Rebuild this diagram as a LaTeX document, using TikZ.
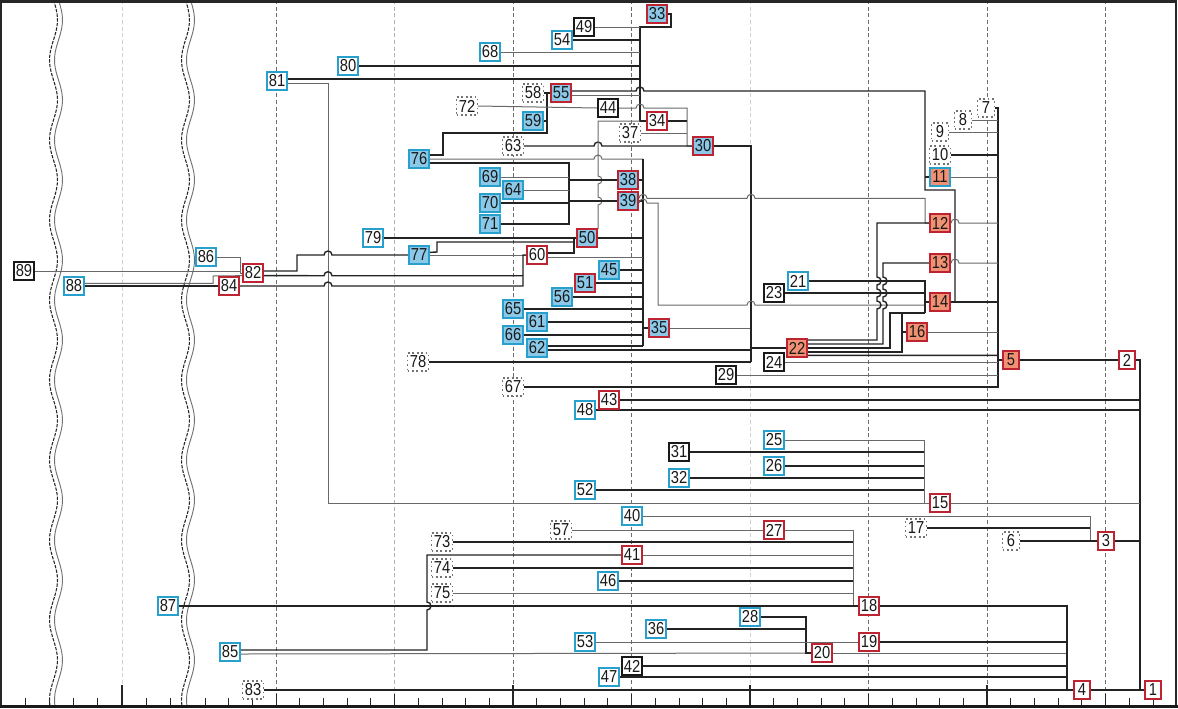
\documentclass[tikz,border=0pt]{standalone}
\usepackage{fontspec}
\newfontfamily\nodefont{Liberation Sans}[FakeStretch=0.85]
\pgfdeclarelayer{gridl}\pgfdeclarelayer{linel}
\pgfsetlayers{gridl,linel,main}
\definecolor{cyanb}{RGB}{40,160,205}
\definecolor{bluefill}{RGB}{140,200,232}
\definecolor{redb}{RGB}{190,35,50}
\definecolor{orangefill}{RGB}{240,145,115}
\definecolor{lineDark}{RGB}{35,35,35}
\definecolor{lineGray}{RGB}{105,105,105}
\begin{document}
\begin{tikzpicture}[x=0.75pt,y=-0.75pt,
  nd/.style={draw, line width=1.3pt, inner xsep=1.6pt, inner ysep=0pt, minimum height=13.5pt, minimum width=12.5pt, font=\nodefont\fontsize{13}{13}\selectfont, text=black!90},
  bo/.style={nd, draw=cyanb, fill=white},
  bf/.style={nd, draw=cyanb, fill=bluefill},
  rb/.style={nd, draw=redb, fill=bluefill},
  rw/.style={nd, draw=redb, fill=white},
  ro/.style={nd, draw=redb, fill=orangefill},
  bor/.style={nd, draw=cyanb, fill=orangefill},
  kw/.style={nd, draw=black!90, fill=white},
  dt/.style={nd, draw=gray!90!black, dotted, line width=0.9pt, fill=white},
  dk/.style={draw=lineDark, line width=1.05pt},
  gy/.style={draw=lineGray, line width=0.75pt},
  tk/.style={draw=lineDark, line width=1.7pt},
  grid/.style={draw=gray!85!black, line width=0.6pt, dash pattern=on 3pt off 2pt},
  lgrid/.style={draw=gray!35, line width=0.6pt, dash pattern=on 3pt off 2pt}
]
\useasboundingbox (0,0) rectangle (1178,708);
% nodes
\node[rw] (n1) at (1153,690) {1};
\node[rw] (n2) at (1127,360) {2};
\node[rw] (n3) at (1106,541) {3};
\node[rw] (n4) at (1082,690) {4};
\node[ro] (n5) at (1011,360) {5};
\node[dt] (n6) at (1011,541) {6};
\node[dt] (n7) at (986,108) {7};
\node[dt] (n8) at (963,120) {8};
\node[dt] (n9) at (940,132) {9};
\node[dt] (n10) at (940,155) {10};
\node[bor] (n11) at (940,177) {11};
\node[ro] (n12) at (940,223) {12};
\node[ro] (n13) at (940,263) {13};
\node[ro] (n14) at (940,302) {14};
\node[rw] (n15) at (940,503) {15};
\node[ro] (n16) at (917,332) {16};
\node[dt] (n17) at (916,528) {17};
\node[rw] (n18) at (869,606) {18};
\node[rw] (n19) at (869,642) {19};
\node[rw] (n20) at (822,653) {20};
\node[bo] (n21) at (798,281) {21};
\node[ro] (n22) at (797,348) {22};
\node[kw] (n23) at (774,293) {23};
\node[kw] (n24) at (774,362) {24};
\node[bo] (n25) at (774,440) {25};
\node[bo] (n26) at (774,466) {26};
\node[rw] (n27) at (774,530) {27};
\node[bo] (n28) at (750,617) {28};
\node[kw] (n29) at (726,375) {29};
\node[rb] (n30) at (703,146) {30};
\node[kw] (n31) at (679,452) {31};
\node[bo] (n32) at (679,478) {32};
\node[rb] (n33) at (657,14) {33};
\node[rw] (n34) at (657,121) {34};
\node[rb] (n35) at (659,328) {35};
\node[bo] (n36) at (656,629) {36};
\node[dt] (n37) at (630,133) {37};
\node[rb] (n38) at (628,180) {38};
\node[rb] (n39) at (628,201) {39};
\node[bo] (n40) at (632,516) {40};
\node[rw] (n41) at (632,555) {41};
\node[kw] (n42) at (632,666) {42};
\node[rw] (n43) at (609,400) {43};
\node[kw] (n44) at (608,108) {44};
\node[bf] (n45) at (609,270) {45};
\node[bo] (n46) at (608,581) {46};
\node[bo] (n47) at (609,677) {47};
\node[bo] (n48) at (585,410) {48};
\node[kw] (n49) at (584,27) {49};
\node[rb] (n50) at (587,238) {50};
\node[rb] (n51) at (585,283) {51};
\node[bo] (n52) at (585,490) {52};
\node[bo] (n53) at (585,642) {53};
\node[bo] (n54) at (562,40) {54};
\node[rb] (n55) at (561,93) {55};
\node[bf] (n56) at (562,297) {56};
\node[dt] (n57) at (561,530) {57};
\node[dt] (n58) at (533,93) {58};
\node[bf] (n59) at (533,121) {59};
\node[rw] (n60) at (537,255) {60};
\node[bf] (n61) at (537,322) {61};
\node[bf] (n62) at (537,348) {62};
\node[dt] (n63) at (513,146) {63};
\node[bf] (n64) at (513,190) {64};
\node[bf] (n65) at (513,309) {65};
\node[bf] (n66) at (513,335) {66};
\node[dt] (n67) at (513,387) {67};
\node[bo] (n68) at (490,52) {68};
\node[bf] (n69) at (490,177) {69};
\node[bf] (n70) at (490,203) {70};
\node[bf] (n71) at (490,224) {71};
\node[dt] (n72) at (467,106) {72};
\node[dt] (n73) at (442,542) {73};
\node[dt] (n74) at (442,568) {74};
\node[dt] (n75) at (442,593) {75};
\node[bf] (n76) at (419,159) {76};
\node[bf] (n77) at (419,255) {77};
\node[dt] (n78) at (418,362) {78};
\node[bo] (n79) at (373,238) {79};
\node[bo] (n80) at (348,66) {80};
\node[bo] (n81) at (277,81) {81};
\node[rw] (n82) at (253,273) {82};
\node[dt] (n83) at (253,690) {83};
\node[rw] (n84) at (229,286) {84};
\node[bo] (n85) at (230,652) {85};
\node[bo] (n86) at (206,257) {86};
\node[bo] (n87) at (168,606) {87};
\node[bo] (n88) at (74,286) {88};
\node[kw] (n89) at (24,271) {89};

\begin{pgfonlayer}{gridl}
\fill[white] (0,0) rectangle (1178,708);
\foreach \xx in {276,513,631.5,868.5,987,1105.5} \draw[grid] (\xx,0) -- (\xx,706);
\draw[grid, draw=gray!60] (394.5,0) -- (394.5,706);
\foreach \xx in {122,750} \draw[lgrid] (\xx,0) -- (\xx,706);
% breaks
\foreach \xc in {56,188} {
  \draw[black!85, line width=0.8pt, dash pattern=on 2.5pt off 1pt] plot[smooth, domain=0:708, samples=100] ({\xc-2.5+4*sin(4.5*\x)},\x);
  \draw[gray!90!black, line width=0.7pt] plot[smooth, domain=0:708, samples=100] ({\xc+2.5+4*sin(4.5*\x)},\x);
}
% axis ticks
\foreach \xx in {205.0,228.7,...,1177} \draw[black!85, line width=0.75pt] (\xx,706) -- (\xx,698);
\foreach \xx in {25,49.3,...,172} \draw[black!85, line width=0.75pt] (\xx,706) -- (\xx,698);
\foreach \xx in {276,394.5,631.5,868.5,1105.5} \draw[black!85, line width=0.75pt] (\xx,706) -- (\xx,694);
\foreach \xx in {122,513,750,987} \draw[black!85, line width=0.9pt] (\xx,706) -- (\xx,685);
\end{pgfonlayer}

\begin{pgfonlayer}{linel}
% 33 group
\draw[dk] (n33.east) -- (671,14) -- (671,27) -- (640,27) -- (640,121) -- (n34.west);
\draw[gy] (n49.east) -- (640,27);
\draw[dk] (n54.east) -- (640,40);
\draw[gy] (n68.east) -- (640,52);
\draw[dk] (n80.east) -- (640,66);
\draw[dk] ([yshift=1.5pt]n81.east) -- (640,79);
\draw[gy] ([yshift=-1.5pt]n81.east) -- (328,83) -- (328,503) -- (n15.west);
% 55
\draw[dk] ([yshift=1.5pt]n55.east) -- (636,91) arc (180:0:3pt) -- (925,91) -- (925,190) -- (955,190) -- (955,302) -- (n14.east);
\draw[dk] (925,177) -- (n11.west);
\draw[gy] ([yshift=-1.5pt]n55.east) -- (640,95);
\draw[dk] (n58.east) -- (n55.west);
\draw[dk] (n59.east) -- (547,121);
\draw[dk] (547,93) -- (547,133) -- (443,133) -- (443,155) -- ([yshift=3pt]n76.east);
% 30 group
\draw[gy] (n72.east) -- (n44.west);
\draw[gy] (n44.east) -- (636,108) arc (180:0:3pt) -- (687,108) -- (687,146) -- (n30.west);
\draw[dk] (n34.east) -- (687,121);
\draw[gy] (n37.east) -- (687,133);
\draw[dk] (n63.east) -- (594,146) arc (180:0:3pt) -- (n30.west);
\draw[gy] (598,229) -- (598,205) arc (-90:90:3pt) -- (598,184) arc (-90:90:3pt) -- (598,121) -- (640,121);
% 76 group
\draw[gy] (n76.east) -- (594,159) arc (180:0:3pt) -- (643,159);
\draw[dk] ([yshift=-3pt]n76.east) -- (569,163) -- (569,224) -- (n71.east);
\draw[gy] (n69.east) -- (569,177);
\draw[gy] (n64.east) -- (569,190);
\draw[dk] (n70.east) -- (569,203);
\draw[tk] (569,180) -- (n38.west);
\draw[tk] (569,201) -- (n39.west);
% bus 643
\draw[dk] (643,159) -- (643,346);
\draw[dk] (n38.east) -- (643,180);
\draw[dk] (n39.east) -- (643,201);
\draw[dk] (n50.east) -- (643,238);
\draw[gy] ([yshift=-1.5pt]n60.east) -- (643,257);
\draw[dk] (n45.east) -- (643,270);
\draw[dk] (n51.east) -- (643,283);
\draw[dk] (n56.east) -- (643,297);
\draw[dk] (n65.east) -- (643,309);
\draw[dk] (n61.east) -- (643,322);
\draw[dk] (n66.east) -- (643,335);
\draw[dk] ([yshift=1.5pt]n62.east) -- (643,346);
\draw[dk] ([yshift=-1.5pt]n62.east) -- (751,350);
\draw[dk] (643,328) -- (n35.west);
\draw[gy] (n35.east) -- (751,328);
% 50 / 60 / 77 / 79
\draw[dk] (n79.east) -- (n50.west);
\draw[dk] ([yshift=1.5pt]n60.east) -- (574,253) -- (574,238);
\draw[dk] ([yshift=2pt]n77.east) -- (437,252) -- (437,242) -- (574,242);
\draw[gy] (n77.east) -- (n60.west);
% 82 / 84 / 86 / 88 / 89
\draw[gy] (n86.east) -- (240,257) -- (240,273) -- (n82.west);
\draw[gy] (n89.east) -- (240,271);
\draw[gy] ([yshift=2pt]n88.east) -- (213,283.3) -- (213,276) -- ([yshift=-2pt]n82.west);
\draw[dk] (n88.east) -- (n84.west);
\draw[dk] ([yshift=1.5pt]n82.east) -- (297,271) -- (297,255) -- (324,255) arc (180:0:3pt) -- (n77.west);
\draw[dk] ([yshift=-2pt]n82.east) -- (324,275.7) arc (180:0:3pt) -- (523,275.7);
\draw[dk] (n84.east) -- (324,286) arc (180:0:3pt) -- (523,286) -- (523,255) -- (n60.west);
% 30 bus and 22
\draw[dk] (n30.east) -- (751,146) -- (751,362);
\draw[dk] (n78.east) -- (751,362);
\draw[tk] (751,348) -- (n22.west);
% 39 lines
\draw[gy] ([yshift=2pt]n39.east) -- (639,198.3) arc (180:0:3pt) -- (747,198.3) arc (180:0:3pt) -- (925,198.3) -- (925,223) -- (n12.west);
\draw[gy] ([yshift=-1.5pt]n39.east) -- (639,203) arc (180:0:3pt) -- (658,203) -- (658,305) -- (747,305) arc (180:0:3pt) -- (925,305);
% 14 bus
\draw[dk] (n21.east) -- (925,281) -- (925,313);
\draw[dk] (n23.east) -- (925,293);
\draw[dk] (925,302) -- (n14.west);
% 22 lines
\draw[dk] ([yshift=6pt]n22.east) -- (877,340) -- (877,309) arc (-90:90:3pt) -- (877,297) arc (-90:90:3pt) -- (877,285) arc (-90:90:3pt) -- (877,223) -- (n12.west);
\draw[dk] ([yshift=3pt]n22.east) -- (883,344) -- (883,309) arc (-90:90:3pt) -- (883,297) arc (-90:90:3pt) -- (883,285) arc (-90:90:3pt) -- (883,263) -- (n13.west);
\draw[dk] (n22.east) -- (890,348) -- (890,313) -- (925,313);
\draw[dk] ([yshift=-3pt]n22.east) -- (902,352) -- (902,313);
\draw[dk] (902,332) -- (n16.west);
\draw[dk] ([yshift=-5.5pt]n22.east) -- (998,355.3);
% 998 bus
\draw[dk] (n7.east) -- (998,108) -- (998,387) -- (n67.east);
\draw[gy] (n8.east) -- (998,120);
\draw[gy] (n9.east) -- (998,132);
\draw[dk] (n10.east) -- (998,155);
\draw[gy] (n11.east) -- (998,177);
\draw[gy] (n12.east) -- (951,223) arc (180:0:3pt) -- (998,223);
\draw[gy] (n13.east) -- (951,263) arc (180:0:3pt) -- (998,263);
\draw[dk] (n14.east) -- (998,302);
\draw[gy] (n16.east) -- (998,332);
\draw[dk] (998,360) -- (n5.west);
\draw[gy] (n24.east) -- (998,362);
\draw[gy] (n29.east) -- (998,375);
\draw[dk] (n5.east) -- (n2.west);
% root
\draw[dk] (n2.east) -- (1140,360) -- (1140,690) -- (n1.west);
\draw[dk] (n43.east) -- (1140,400);
\draw[dk] (n48.east) -- (1140,410);
\draw[gy] (n15.east) -- (1140,503);
\draw[dk] (n3.east) -- (1140,541);
% 15
\draw[gy] (n25.east) -- (924,440) -- (924,503);
\draw[dk] (n31.east) -- (924,452);
\draw[dk] (n26.east) -- (924,466);
\draw[dk] (n32.east) -- (924,478);
\draw[dk] (n52.east) -- (924,490);
% 3
\draw[gy] (n40.east) -- (1090,516) -- (1090,541);
\draw[dk] (n17.east) -- (1090,528);
\draw[dk] (n6.east) -- (n3.west);
% 18
\draw[gy] (n57.east) -- (n27.west);
\draw[gy] (n27.east) -- (853,530) -- (853,606) -- (n18.west);
\draw[dk] (n73.east) -- (853,542);
\draw[gy] (n41.east) -- (853,555);
\draw[dk] (n74.east) -- (853,568);
\draw[dk] (n46.east) -- (853,581);
\draw[gy] (n75.east) -- (853,593);
\draw[dk] (n87.east) -- (n18.west);
\draw[dk] ([yshift=1.5pt]n85.east) -- (427,650) -- (427,610) arc (-90:90:3pt) -- (427,555) -- (n41.west);
\draw[gy] ([yshift=-1.5pt]n85.east) -- (n20.west);
% 20 / 19 / 4
\draw[dk] (n28.east) -- (806,617) -- (806,653) -- (n20.west);
\draw[dk] (n36.east) -- (806,629);
\draw[gy] (n20.east) -- (1067,653);
\draw[gy] (n53.east) -- (n19.west);
\draw[dk] (n19.east) -- (1067,642);
\draw[dk] (n18.east) -- (1067,606) -- (1067,690);
\draw[dk] (n42.east) -- (1067,666);
\draw[dk] (n47.east) -- (1067,677);
\draw[dk] (n83.east) -- (n4.west);
\draw[dk] (n4.east) -- (n1.west);
\end{pgfonlayer}
% frame
\draw[black!85, line width=2pt] (1,708) -- (1,1.2) -- (1176,1.2) -- (1176,708);
\draw[black!90, line width=2.2pt] (0,706.5) -- (1178,706.5);
\end{tikzpicture}
\end{document}
